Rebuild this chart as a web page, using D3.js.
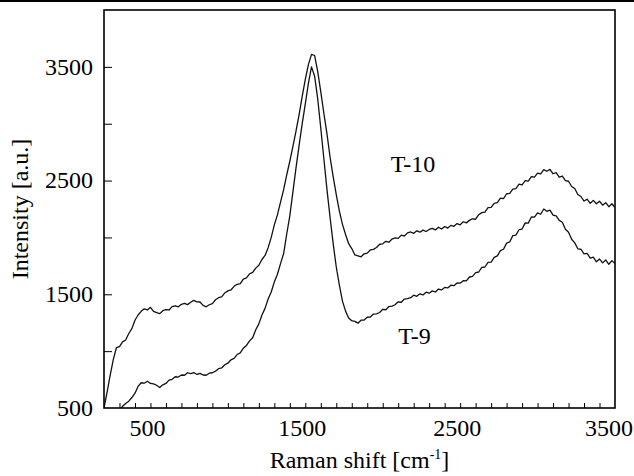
<!DOCTYPE html>
<html>
<head>
<meta charset="utf-8">
<script src="https://cdn.jsdelivr.net/npm/d3@7/dist/d3.min.js"></script>
<style>
  html, body { margin: 0; padding: 0; background: #fff; }
  svg { display: block; }
  text { font-family: "Liberation Serif", "Times New Roman", serif; fill: #000; }
</style>
</head>
<body>
<div id="chart"></div>
<script>
// ---------------- data ----------------
// Raman shift sampling (cm^-1)
const t10Start = 200, t9Start = 300, shiftStep = 20;

// Intensity [a.u.] of sample T-10, 200..3500 cm^-1 every 20 cm^-1
const t10Values = [
  500, 640, 790, 925, 1030, 1040, 1082, 1098, 1155, 1198,
  1272, 1318, 1350, 1372, 1362, 1385, 1350, 1338, 1330, 1356,
  1366, 1362, 1392, 1399, 1390, 1412, 1420, 1409, 1430, 1446,
  1434, 1432, 1402, 1390, 1408, 1418, 1452, 1470, 1478, 1512,
  1530, 1538, 1570, 1588, 1594, 1634, 1645, 1680, 1692, 1730,
  1755, 1806, 1842, 1910, 2000, 2110, 2198, 2310, 2420, 2550,
  2670, 2800, 2935, 3080, 3240, 3390, 3520, 3610, 3600, 3460,
  3280, 3090, 2910, 2705, 2535, 2376, 2232, 2115, 2026, 1945,
  1902, 1846, 1838, 1830, 1856, 1862, 1890, 1895, 1912, 1940,
  1944, 1966, 1958, 1986, 1996, 1992, 2020, 2012, 2040, 2048,
  2036, 2058, 2046, 2064, 2052, 2070, 2080, 2066, 2090, 2074,
  2096, 2082, 2106, 2098, 2122, 2110, 2138, 2128, 2150, 2164,
  2160, 2200, 2218, 2222, 2262, 2264, 2300, 2306, 2346, 2342,
  2384, 2388, 2424, 2430, 2468, 2462, 2500, 2496, 2534, 2530,
  2566, 2558, 2596, 2582, 2598, 2560, 2570, 2530, 2540, 2500,
  2494, 2448, 2430, 2378, 2360, 2320, 2336, 2300, 2326, 2296,
  2318, 2284, 2306, 2270, 2296, 2262
];

// Intensity [a.u.] of sample T-9, 300..3500 cm^-1 every 20 cm^-1
const t9Values = [
  470, 515, 540, 560, 592, 630, 690, 722, 718, 735,
  716, 712, 700, 680, 704, 716, 745, 752, 775, 772,
  790, 788, 810, 802, 812, 795, 804, 790, 788, 806,
  810, 824, 846, 852, 880, 894, 924, 936, 970, 985,
  1026, 1050, 1090, 1118, 1188, 1240, 1318, 1376, 1458, 1520,
  1608, 1676, 1770, 1858, 2030, 2190, 2400, 2612, 2810, 3000,
  3175, 3355, 3500, 3420, 3220, 2960, 2690, 2420, 2175, 1945,
  1740, 1580, 1440, 1352, 1292, 1268, 1262, 1246, 1272, 1274,
  1298, 1300, 1326, 1328, 1340, 1368, 1364, 1392, 1396, 1408,
  1434, 1430, 1458, 1462, 1470, 1492, 1482, 1504, 1494, 1518,
  1510, 1530, 1520, 1546, 1538, 1560, 1556, 1580, 1576, 1600,
  1598, 1620, 1618, 1652, 1658, 1690, 1696, 1736, 1740, 1780,
  1782, 1824, 1838, 1884, 1896, 1950, 1960, 2016, 2020, 2068,
  2074, 2128, 2126, 2180, 2178, 2216, 2204, 2250, 2230, 2240,
  2196, 2190, 2150, 2134, 2072, 2046, 1984, 1952, 1900, 1896,
  1856, 1860, 1818, 1826, 1786, 1810, 1776, 1802, 1764, 1796,
  1770
];

const xDomain = [200, 3500];
const yDomain = [500, 4000];
const xTickLabels = [500, 1500, 2500, 3500];
const xMinorTicks = d3.range(300, 3500, 100);
const yTickLabels = [500, 1500, 2500, 3500];
const yMinorTicks = [1000, 1500, 2000, 2500, 3000, 3500];
const seriesNames = ["T-10", "T-9"];
const seriesLabelAt = [[2195, 2575], [2205, 1060]];   // data coords of the series labels
const xTitle = "Raman shift [cm";
const xTitleSup = "-1";
const yTitle = "Intensity [a.u.]";

// ---------------- layout ----------------
const W = 634, H = 476;
const m = { left: 104, right: 19, top: 10, bottom: 68 };

const svg = d3.select("#chart").append("svg")
  .attr("width", W).attr("height", H);

const x = d3.scaleLinear().domain(xDomain).range([m.left, W - m.right]);
const y = d3.scaleLinear().domain(yDomain).range([H - m.bottom, m.top]);

// rule at very top of page
svg.append("line")
  .attr("x1", 0).attr("x2", W).attr("y1", 1).attr("y2", 1)
  .attr("stroke", "#000").attr("stroke-width", 2);

svg.append("clipPath").attr("id", "plotclip")
  .append("rect")
  .attr("x", m.left).attr("y", m.top)
  .attr("width", W - m.left - m.right).attr("height", H - m.top - m.bottom);

// series
const series = [
  { name: seriesNames[0], pts: t10Values.map((v, i) => [t10Start + i * shiftStep, v]) },
  { name: seriesNames[1], pts: t9Values.map((v, i) => [t9Start + i * shiftStep, v]) }
];
const line = d3.line().x(d => x(d[0])).y(d => y(d[1]));

svg.append("g").attr("clip-path", "url(#plotclip)")
  .selectAll("path").data(series).join("path")
  .attr("d", d => line(d.pts))
  .attr("fill", "none")
  .attr("stroke", "#111")
  .attr("stroke-width", 1.3)
  .attr("stroke-linejoin", "round");

// x ticks (inside, on bottom frame)
const xAxisG = svg.append("g").attr("transform", `translate(0,${H - m.bottom})`);
xAxisG.call(d3.axisBottom(x).tickValues(xMinorTicks).tickSizeInner(-5).tickSizeOuter(0).tickFormat(""));
xAxisG.select(".domain").remove();
xAxisG.selectAll(".tick line").attr("stroke", "#000").attr("stroke-width", 1);

// y ticks (inside, on left frame)
const yAxisG = svg.append("g").attr("transform", `translate(${m.left},0)`);
yAxisG.call(d3.axisLeft(y).tickValues(yMinorTicks).tickSizeInner(-8).tickSizeOuter(0).tickFormat(""));
yAxisG.select(".domain").remove();
yAxisG.selectAll(".tick line").attr("stroke", "#000").attr("stroke-width", 1);

// frame
svg.append("rect")
  .attr("x", m.left).attr("y", m.top)
  .attr("width", W - m.left - m.right).attr("height", H - m.top - m.bottom)
  .attr("fill", "none").attr("stroke", "#000").attr("stroke-width", 1.6);

// x tick labels
svg.append("g").selectAll("text").data(xTickLabels).join("text")
  .attr("x", d => d === xDomain[1] ? W - 1 : x(d) - 3)
  .attr("y", 436)
  .attr("text-anchor", d => d === xDomain[1] ? "end" : "middle")
  .attr("font-size", 24)
  .text(d => d);

// y tick labels
svg.append("g").selectAll("text").data(yTickLabels).join("text")
  .attr("x", 93)
  .attr("y", d => y(d))
  .attr("dy", "0.33em")
  .attr("text-anchor", "end")
  .attr("font-size", 24)
  .text(d => d);

// axis titles
const xt = svg.append("text")
  .attr("x", (m.left + W - m.right) / 2)
  .attr("y", 468)
  .attr("text-anchor", "middle")
  .attr("font-size", 24);
xt.append("tspan").text(xTitle);
xt.append("tspan").attr("font-size", 14).attr("dy", -9).text(xTitleSup);
xt.append("tspan").attr("dy", 9).text("]");

svg.append("text")
  .attr("transform", `translate(28,${(m.top + H - m.bottom) / 2}) rotate(-90)`)
  .attr("text-anchor", "middle")
  .attr("font-size", 24)
  .text(yTitle);

// series labels
svg.append("g").selectAll("text").data(series).join("text")
  .attr("x", (d, i) => x(seriesLabelAt[i][0]))
  .attr("y", (d, i) => y(seriesLabelAt[i][1]))
  .attr("text-anchor", "middle")
  .attr("font-size", 24)
  .text(d => d.name);
</script>
</body>
</html>
